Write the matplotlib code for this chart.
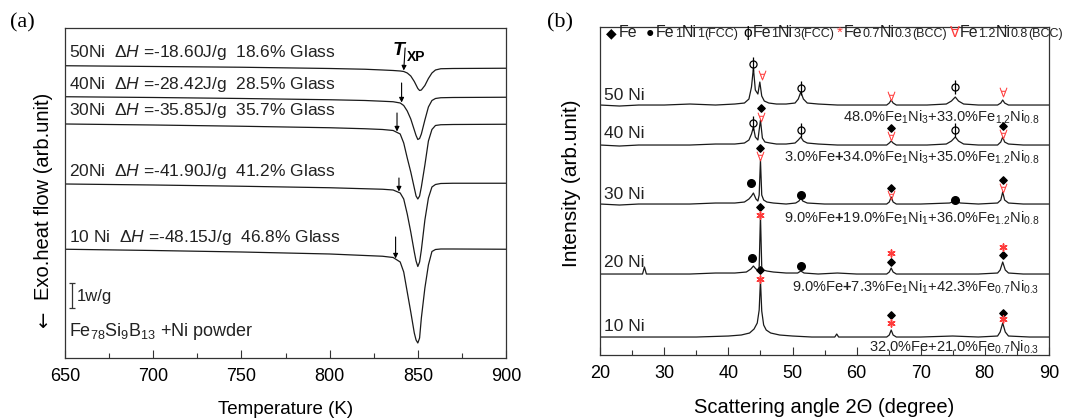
import matplotlib
matplotlib.use("Agg")
import matplotlib.pyplot as plt
from matplotlib.ticker import MultipleLocator

plt.rcParams['font.family'] = ['Liberation Sans', 'DejaVu Sans']
plt.rcParams['mathtext.fontset'] = 'custom'
plt.rcParams['mathtext.rm'] = 'Liberation Sans'
plt.rcParams['mathtext.it'] = 'Liberation Sans:italic'
plt.rcParams['mathtext.bf'] = 'Liberation Sans:bold'

# ---------------- (a) DSC data (heat flow, W/g, offset per sample) ----------------
dsc_temp = [650, 700, 750, 800, 820, 830, 836, 840, 842, 844, 846, 848, 849,
            850, 851, 852, 854, 856, 858, 860, 863, 870, 900]
dsc_50ni = [11.69, 11.66, 11.63, 11.58, 11.55, 11.52, 11.50, 11.48, 11.46, 11.40, 11.28, 11.06, 10.92,
            10.78, 10.70, 10.72, 10.90, 11.18, 11.40, 11.52, 11.57, 11.58, 11.59]
dsc_40ni = [10.45, 10.42, 10.38, 10.33, 10.30, 10.27, 10.25, 10.20, 10.10, 9.88, 9.56, 9.12, 8.90,
            8.74, 8.78, 8.96, 9.52, 10.04, 10.30, 10.38, 10.41, 10.42, 10.43]
dsc_30ni = [9.36, 9.32, 9.27, 9.21, 9.17, 9.14, 9.10, 8.96, 8.60, 8.00, 7.44, 6.80, 6.48,
            6.36, 6.48, 6.84, 7.72, 8.68, 9.14, 9.30, 9.33, 9.34, 9.35]
dsc_20ni = [6.96, 6.92, 6.87, 6.81, 6.77, 6.75, 6.72, 6.60, 6.36, 5.76, 5.04, 4.24, 3.88,
            3.66, 3.84, 4.32, 5.52, 6.40, 6.84, 6.94, 6.98, 6.99, 6.99]
dsc_10ni = [4.35, 4.30, 4.24, 4.16, 4.10, 4.07, 4.02, 3.84, 3.44, 2.64, 1.84, 1.00, 0.72,
            0.60, 0.80, 1.60, 2.80, 3.72, 4.26, 4.34, 4.36, 4.36, 4.35]
dsc_curves = [dsc_50ni, dsc_40ni, dsc_30ni, dsc_20ni, dsc_10ni]

dsc_labels = [
    "50Ni  $\\mathit{ΔH}$ =-18.60J/g  18.6% Glass",
    "40Ni  $\\mathit{ΔH}$ =-28.42J/g  28.5% Glass",
    "30Ni  $\\mathit{ΔH}$ =-35.85J/g  35.7% Glass",
    "20Ni  $\\mathit{ΔH}$ =-41.90J/g  41.2% Glass",
    "10 Ni  $\\mathit{ΔH}$ =-48.15J/g  46.8% Glass",
]
dsc_label_y = [12.20, 10.92, 9.88, 7.44, 4.80]

# onset (T_XP) arrows
onset_temp = [842.0, 840.8, 838.2, 839.3, 837.4]
onset_top = [12.40, 11.00, 9.80, 7.20, 4.84]
onset_tip = [11.50, 10.22, 9.06, 6.66, 3.98]

scale_bar = 1.0  # 1 W/g

# ---------------- (b) XRD data ----------------
xrd_50_x = [20, 23, 26, 30, 34, 38, 41, 42.5, 43.2, 43.6, 43.9, 44.2, 44.6, 44.9, 45.2, 45.6, 46.3,
            47.5, 49, 50.4, 50.9, 51.3, 51.7, 52.3, 54, 57, 60, 63, 64.7, 65.1, 65.4, 65.7, 66.2,
            68, 71, 74.0, 74.8, 75.4, 75.9, 76.7, 79, 82.0, 82.5, 82.8, 83.1, 83.7, 86, 90]
xrd_50_y = [250, 249, 250, 250, 251, 250, 251, 252, 256, 268, 287, 265, 261, 273, 259, 254, 252,
            251, 251, 252, 256, 263, 256, 252, 251, 250, 250, 250, 250, 252, 255, 252, 250,
            250, 250, 251, 254, 258, 254, 251, 250, 250, 252, 255, 252, 250, 250, 250]

xrd_40_x = [20, 23, 26, 30, 34, 38, 41, 42.5, 43.2, 43.6, 43.9, 44.2, 44.6, 45.0, 45.3, 45.7, 46.5,
            47.5, 49, 50.4, 50.9, 51.3, 51.7, 52.3, 54, 57, 60, 63, 64.7, 65.1, 65.4, 65.7, 66.2,
            68, 71, 74.0, 74.8, 75.4, 75.9, 76.7, 79, 82.0, 82.5, 82.8, 83.1, 83.7, 86, 90]
xrd_40_y = [210, 209, 210, 210, 210, 211, 211, 212, 215, 221, 228, 218, 215, 235, 217, 213, 212,
            211, 211, 212, 215, 218, 214, 212, 211, 210, 210, 210, 210, 212, 214, 212, 210,
            210, 210, 211, 214, 218, 214, 211, 210, 210, 213, 218, 213, 211, 210, 210]

xrd_30_x = [20, 23, 26, 30, 34, 38, 41, 42.5, 43.2, 43.6, 43.9, 44.3, 44.6, 44.8, 45.0, 45.2, 45.5,
            46.0, 47.0, 49, 50.5, 51.0, 51.3, 51.6, 52.3, 55, 58, 62, 64.7, 65.1, 65.4, 65.7, 66.2,
            70, 74.5, 75.4, 76.2, 79, 82.0, 82.5, 82.8, 83.1, 83.7, 86, 90]
xrd_30_y = [151, 150, 151, 151, 151, 152, 152, 153, 156, 159, 162, 156, 154, 160, 195, 160, 155,
            153, 152, 151, 152, 154, 157, 154, 152, 151, 151, 151, 151, 153, 158, 153, 151,
            151, 152, 154, 152, 151, 152, 155, 163, 155, 152, 151, 151]

xrd_20_x = [20, 23, 26.6, 26.9, 27.2, 30, 34, 38, 41, 42.8, 43.5, 43.9, 44.3, 44.6, 44.8, 45.0, 45.2,
            45.5, 46.0, 47.0, 49, 50.8, 51.3, 51.8, 54, 57, 60, 62, 64.7, 65.1, 65.4, 65.7, 66.2,
            70, 75, 79, 82.0, 82.4, 82.8, 83.2, 83.7, 86, 90]
xrd_20_y = [81, 81, 81, 88, 81, 81, 81, 82, 82, 83, 86, 89, 86, 85, 88, 140, 88,
            85, 84, 83, 82, 82, 84, 82, 81, 82, 81, 81, 81, 83, 87, 83, 81,
            81, 81, 81, 82, 85, 93, 85, 82, 81, 81]

xrd_10_x = [20, 25, 30, 35, 40, 42, 43.3, 44.0, 44.5, 44.8, 45.0, 45.2, 45.5, 45.9, 46.6, 48, 50,
            53, 56.6, 56.9, 57.2, 60, 62, 64.7, 65.1, 65.4, 65.7, 66.2, 70, 75, 79,
            82.0, 82.4, 82.8, 83.2, 83.7, 87, 90]
xrd_10_y = [18, 18, 18, 18, 19, 20, 22, 26, 32, 45, 75, 44, 30, 25, 22, 20, 19,
            18, 18, 21, 18, 18, 18, 18, 20, 25, 20, 18, 18, 19, 18,
            19, 23, 32, 23, 19, 18, 18]

xrd_x = [xrd_50_x, xrd_40_x, xrd_30_x, xrd_20_x, xrd_10_x]
xrd_y = [xrd_50_y, xrd_40_y, xrd_30_y, xrd_20_y, xrd_10_y]
xrd_names = ["50 Ni", "40 Ni", "30 Ni", "20 Ni", "10 Ni"]
xrd_name_y = [260, 222, 161, 93, 29]

# phase markers
fe_x = [45.1, 65.4, 82.8, 45.0, 65.4, 82.8, 45.0, 65.4, 82.8, 45.0, 65.4, 82.8]
fe_y = [247, 227, 229, 207, 167, 175, 148, 93, 100, 85, 40, 42]
feni1_x = [43.6, 51.3, 75.4, 43.7, 51.3]
feni1_y = [172, 160, 155, 97, 89]
feni3_x = [43.9, 51.3, 75.4, 43.9, 51.3, 75.4]
feni3_y = [291, 267, 268, 232, 225, 225]
bcc07_x = [45.0, 65.4, 82.8, 45.0, 65.4, 82.8]
bcc07_y = [140, 102, 108, 76, 32, 36]
bcc12_x = [45.2, 65.4, 82.8, 45.1, 65.4, 82.8, 45.0, 65.4, 82.8]
bcc12_y = [280, 259, 263, 238, 219, 221, 199, 160, 167]

phase_text = [
    "48.0%Fe$_{1}$Ni$_{3}$+33.0%Fe$_{1.2}$Ni$_{0.8}$",
    "3.0%Fe$\\mathbf{+}$34.0%Fe$_{1}$Ni$_{3}$+35.0%Fe$_{1.2}$Ni$_{0.8}$",
    "9.0%Fe$\\mathbf{+}$19.0%Fe$_{1}$Ni$_{1}$+36.0%Fe$_{1.2}$Ni$_{0.8}$",
    "9.0%Fe$\\mathbf{+}$7.3%Fe$_{1}$Ni$_{1}$+42.3%Fe$_{0.7}$Ni$_{0.3}$",
    "32.0%Fe+21.0%Fe$_{0.7}$Ni$_{0.3}$",
]
phase_text_y = [238, 198, 137, 68, 8]

RED = '#ff3b3b'
EDGE = '#333333'
INK = '#222222'

fig = plt.figure(figsize=(10.73, 4.19), dpi=100)
ax1 = fig.add_axes([0.0606, 0.1456, 0.4110, 0.7876])
ax2 = fig.add_axes([0.5594, 0.1527, 0.4181, 0.7828])

for ax in (ax1, ax2):
    for sp in ax.spines.values():
        sp.set_color(EDGE)
        sp.set_linewidth(0.9)
    ax.tick_params(axis='x', which='both', direction='in', labelsize=13, pad=7, color=EDGE)
    ax.tick_params(axis='x', which='major', length=6, width=0.8)
    ax.tick_params(axis='x', which='minor', length=3.5, width=0.8)
    ax.set_yticks([])

# ---- panel (a) ----
for ys in dsc_curves:
    ax1.plot(dsc_temp, ys, color='#1a1a1a', lw=0.9)
for s, y in zip(dsc_labels, dsc_label_y):
    ax1.text(652.3, y, s, fontsize=12.5, va='center', ha='left', color=INK)
for t, y0, y1 in zip(onset_temp, onset_top, onset_tip):
    ax1.annotate('', xy=(t, y1), xytext=(t + (0.8 if y0 > 12 else 0), y0),
                 arrowprops=dict(arrowstyle='-|>', lw=0.8, color='k', mutation_scale=7,
                                 shrinkA=0, shrinkB=0))
ax1.text(838.8, 12.28, 'T', fontsize=14, fontweight='bold', style='italic', ha='center', va='center')
ax1.text(849.0, 12.02, 'XP', fontsize=10, fontweight='bold', ha='center', va='center')
ax1.errorbar([653.8], [2.5], yerr=[scale_bar / 2], color='#333333', lw=0.9, capsize=2, capthick=0.9)
ax1.text(656.5, 2.45, '1w/g', fontsize=12, va='center', ha='left', color=INK)
ax1.text(652.3, 0.86, 'Fe$_{78}$Si$_{9}$B$_{13}$ +Ni powder', fontsize=13, va='baseline', ha='left',
         color=INK)

ax1.set_xlim(650, 900)
ax1.set_ylim(0, 13.2)
ax1.xaxis.set_major_locator(MultipleLocator(50))
ax1.xaxis.set_minor_locator(MultipleLocator(25))
ax1.set_xlabel('Temperature (K)', fontsize=13.5, labelpad=12)
ax1.set_ylabel('Exo.heat flow (arb.unit)', fontsize=14.5)
ax1.yaxis.set_label_coords(-0.028, 0.49)
ax1.text(-0.047, 0.115, '←', transform=ax1.transAxes, rotation=90, fontsize=14,
         family=['DejaVu Sans'], ha='center', va='center')

# ---- panel (b) ----
for xs, ys in zip(xrd_x, xrd_y):
    ax2.plot(xs, ys, color='#1a1a1a', lw=0.9)
for s, y in zip(xrd_names, xrd_name_y):
    ax2.text(20.63, y, s, fontsize=12.5, va='center', ha='left', color=INK)
for s, y in zip(phase_text, phase_text_y):
    ax2.text(88.5, y, s, fontsize=10.5, va='center', ha='right', color=INK)

ax2.scatter(fe_x, fe_y, marker='D', s=14, color='black', zorder=3)
ax2.scatter(feni1_x, feni1_y, marker='o', s=30, color='black', zorder=3)
ax2.scatter(feni3_x, feni3_y, marker='o', s=26, facecolor='white', edgecolor='black', lw=0.9, zorder=3)
ax2.scatter(feni3_x, feni3_y, marker='|', s=110, color='black', lw=0.9, zorder=4)
ax2.scatter(bcc07_x, bcc07_y, marker=(6, 2, 0), s=26, color=RED, lw=1.1, zorder=3)
ax2.scatter(bcc12_x, bcc12_y, marker='$\\forall$', s=45, color=RED, lw=0.3, zorder=3)

# legend row built from chained text pieces: (text, colour, size, gap before)
BIG, SMALL = 11.5, 9
legend_pieces = [
    ('◆', 'black', 10, 0), ('Fe', INK, BIG, 1.5), ('●', 'black', 10, 6),
    ('Fe', INK, BIG, 1.5), ('1', INK, SMALL, 0), ('Ni', INK, BIG, 0),
    ('1', INK, SMALL, 0), ('(FCC)', INK, SMALL, 0), ('ϕ', 'black', 11, 4),
    ('Fe', INK, BIG, 0.5), ('1', INK, SMALL, 0), ('Ni', INK, BIG, 0),
    ('3', INK, SMALL, 0), ('(FCC)', INK, SMALL, 0), ('*', RED, 11, 2),
    ('Fe', INK, BIG, 1), ('0.7', INK, SMALL, 0), ('Ni', INK, BIG, 0),
    ('0.3', INK, SMALL, 0), ('(BCC)', INK, SMALL, 0), ('∀', RED, 10.5, 2),
    ('Fe', INK, BIG, 0), ('1.2', INK, SMALL, 0), ('Ni', INK, BIG, 0),
    ('0.8', INK, SMALL, 0), ('(BCC)', INK, SMALL, 0),
]
fam = ['Liberation Sans', 'DejaVu Sans']
s, c, fs, gap = legend_pieces[0]
prev = ax2.text(20.9, 322, s, color=c, fontsize=fs, va='center', ha='left', family=['DejaVu Sans'])
for s, c, fs, gap in legend_pieces[1:]:
    prev = ax2.annotate(s, xy=(1, 0), xycoords=prev, xytext=(gap, 0), textcoords='offset points',
                        color=c, fontsize=fs, va='bottom', ha='left', family=fam)

ax2.set_xlim(20, 90)
ax2.set_ylim(0, 328)
ax2.xaxis.set_major_locator(MultipleLocator(10))
ax2.xaxis.set_minor_locator(MultipleLocator(5))
ax2.set_xlabel('Scattering angle 2Θ (degree)', fontsize=14.5, labelpad=12)
ax2.set_ylabel('Intensity (arb.unit)', fontsize=15)
ax2.yaxis.set_label_coords(-0.043, 0.524)

fig.text(0.0205, 0.945, '(a)', fontsize=16, family='Liberation Serif', ha='center', va='center')
fig.text(0.522, 0.945, '(b)', fontsize=16, family='Liberation Serif', ha='center', va='center')

fig.savefig('out.png', dpi=100, facecolor='white')
